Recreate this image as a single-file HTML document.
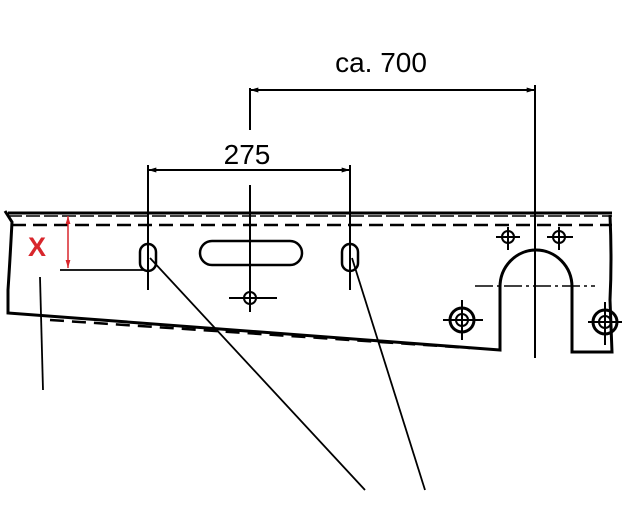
<!DOCTYPE html>
<html><head><style>body{margin:0;background:#fff}svg{display:block}</style></head><body>
<svg width="625" height="528" viewBox="0 0 625 528" xmlns="http://www.w3.org/2000/svg" font-family="Liberation Sans, sans-serif">
<defs>
<marker id="a" viewBox="0 0 10 6" refX="10" refY="3" markerWidth="12" markerHeight="5" orient="auto-start-reverse" markerUnits="userSpaceOnUse"><path d="M0,0L10,3L0,6z" fill="#000"/></marker>
<marker id="r" viewBox="0 0 10 6" refX="10" refY="3" markerWidth="8" markerHeight="6" orient="auto-start-reverse" markerUnits="userSpaceOnUse"><path d="M0,0L10,3L0,6z" fill="#d8262c"/></marker>
</defs>
<g stroke="#000" fill="none">
<line x1="250" y1="90" x2="535" y2="90" stroke-width="2" marker-start="url(#a)" marker-end="url(#a)"/>
<line x1="148" y1="170" x2="350" y2="170" stroke-width="2" marker-start="url(#a)" marker-end="url(#a)"/>
<line x1="250" y1="88" x2="250" y2="130" stroke-width="2"/>
<line x1="250" y1="185" x2="250" y2="312" stroke-width="2"/>
<line x1="148" y1="165" x2="148" y2="290" stroke-width="2"/>
<line x1="350" y1="165" x2="350" y2="290" stroke-width="2"/>
<line x1="535" y1="85" x2="535" y2="358" stroke-width="2"/>
<path d="M8,213 L612,213" stroke-width="3"/>
<path d="M8,216 L612,216" stroke-width="1.5" stroke-dasharray="14,4"/>
<path d="M12,225 L612,225" stroke-width="2.5" stroke-dasharray="14,7"/>
<path d="M5,211 L12,222 Q10,260 8,290 L8,313 L500,350 L500,287 A36,37 0 0 1 572,287 L572,352 L612,352 L610,300 Q612,260 610,215" stroke-width="3"/>
<path d="M50,320 L470,348" stroke-width="2.5" stroke-dasharray="14,8"/>
<line x1="475" y1="286" x2="595" y2="286" stroke-width="1.5" stroke-dasharray="18,4,3,4"/>
<rect x="140" y="244" width="16" height="27" rx="8" stroke-width="2.5"/>
<rect x="342" y="244" width="16" height="27" rx="8" stroke-width="2.5"/>
<rect x="200" y="241" width="102" height="24" rx="12" stroke-width="2.5"/>
<g stroke-width="2">
<circle cx="250" cy="298" r="6"/><line x1="229" y1="298" x2="277" y2="298"/>
<circle cx="508" cy="237" r="6"/><line x1="496" y1="237" x2="520" y2="237"/><line x1="508" y1="227" x2="508" y2="250"/>
<circle cx="559" cy="237" r="6"/><line x1="547" y1="237" x2="573" y2="237"/><line x1="559" y1="227" x2="559" y2="250"/>
<circle cx="462" cy="320" r="12" stroke-width="3"/><circle cx="462" cy="320" r="6"/><line x1="443" y1="320" x2="483" y2="320"/><line x1="462" y1="300" x2="462" y2="340"/>
<circle cx="605" cy="322" r="12" stroke-width="3"/><circle cx="605" cy="322" r="6"/><line x1="588" y1="322" x2="622" y2="322"/><line x1="605" y1="302" x2="605" y2="345"/>
</g>
<line x1="150" y1="258" x2="365" y2="490" stroke-width="1.8"/>
<line x1="352" y1="258" x2="425" y2="490" stroke-width="1.8"/>
<line x1="40" y1="277" x2="43" y2="390" stroke-width="1.8"/>
<line x1="60" y1="270" x2="145" y2="270" stroke-width="1.8"/>
<line x1="68" y1="216" x2="68" y2="268" stroke="#d8262c" stroke-width="1.5" marker-start="url(#r)" marker-end="url(#r)"/>
</g>
<text x="381" y="72" font-size="28" text-anchor="middle">ca. 700</text>
<text x="247" y="164" font-size="28" text-anchor="middle">275</text>
<text x="37" y="256" font-size="27" font-weight="bold" fill="#d8262c" text-anchor="middle">X</text>
</svg>
</body></html>
